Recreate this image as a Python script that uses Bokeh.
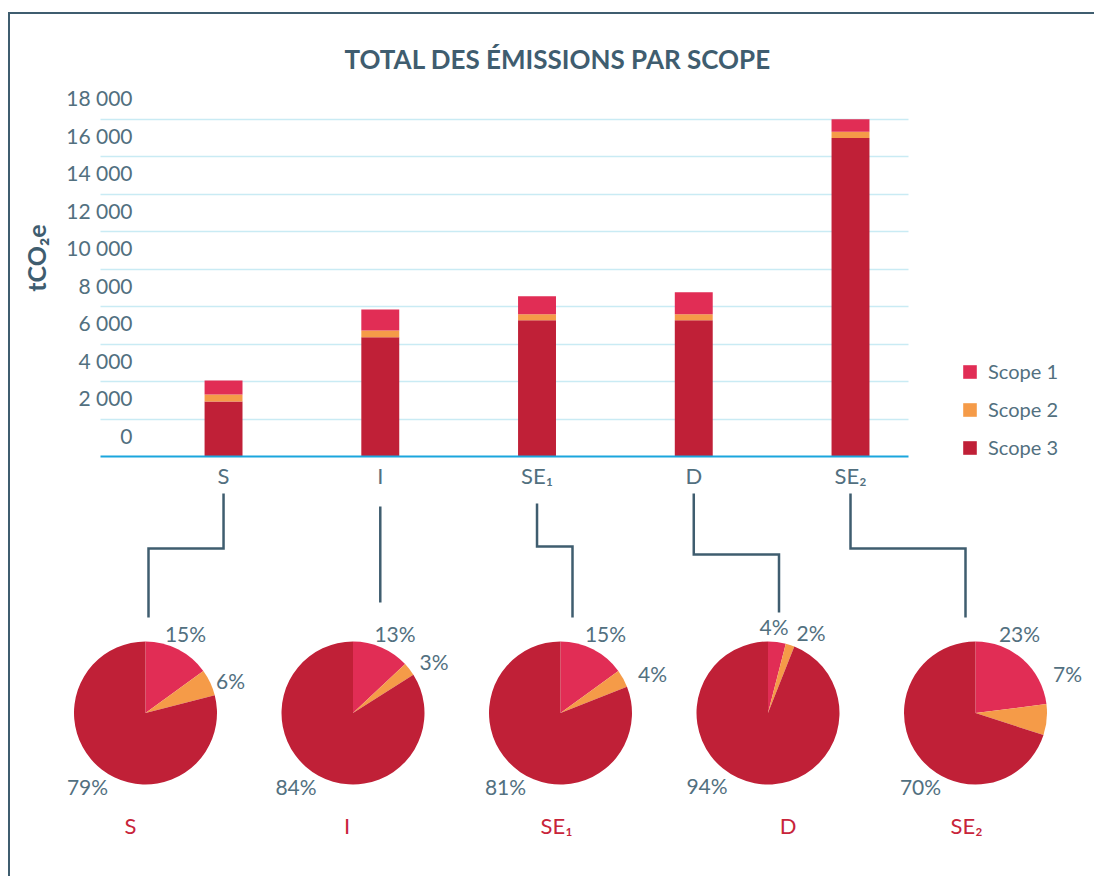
import math
from bokeh.plotting import figure
from bokeh.models import (ColumnDataSource, Range1d, FixedTicker, Legend, LegendItem,
                          LinearAxis, Grid)
from bokeh.core.properties import value
from bokeh.embed import file_html
from bokeh.resources import INLINE

# ---------------- data ----------------
SITES = ["S", "I", "SE₁", "D", "SE₂"]
SCOPE1 = [745, 1120, 960, 1180, 670]
SCOPE2 = [375, 370, 320, 320, 330]
SCOPE3 = [2950, 6370, 7280, 7280, 17000]
PCT1 = [15, 13, 15, 4, 23]
PCT2 = [6, 3, 4, 2, 7]
PCT3 = [79, 84, 81, 94, 70]
Y_TICKS = [0, 2000, 4000, 6000, 8000, 10000, 12000, 14000, 16000, 18000]
Y_TICK_LABELS = ["0", "2 000", "4 000", "6 000", "8 000", "10 000",
                 "12 000", "14 000", "16 000", "18 000"]
LEGEND_LABELS = ["Scope 1", "Scope 2", "Scope 3"]
TITLE = "TOTAL DES ÉMISSIONS PAR SCOPE"
Y_LABEL = "tCO₂e"

# ---------------- style ----------------
FONT = "Lato"
C1, C2, C3 = "#e12d55", "#f59b48", "#c02037"
SLATE = "#3f5d6f"
TEXT = "#52707f"
RED_LABEL = "#c8243a"
GRID = "#c9ebf4"
BASE = "#1ba6dd"

# ---------------- layout (page pixels) ----------------
W, H = 1094, 876
PAGE_X0, PAGE_Y0 = 0, 0
TOP_BORDER = 77                      # space for the title
BAR_LEFT, BAR_RIGHT = 100, 908       # bar plot area
BASE_Y, TOP_GRID_Y = 456.3, 118.7    # page y of 0 and of the last grid value
X_START, X_END = -0.785, 4.370       # bar-axis units across the bar plot area
LABEL_SHIFT = 1150                   # tick labels sit half a step above their grid line
BAR_W = 0.242

SX = (BAR_RIGHT - BAR_LEFT) / (X_END - X_START)
SY = (BASE_Y - TOP_GRID_Y) / Y_TICKS[-1]
FRAME_LEFT, FRAME_RIGHT = PAGE_X0, PAGE_X0 + W
FRAME_TOP, FRAME_BOTTOM = PAGE_Y0 + TOP_BORDER, PAGE_Y0 + H

def xd(px):
    return X_START + (px - BAR_LEFT) / SX

def yd(py):
    return (BASE_Y - py) / SY

PIE_X0, PIE_STEP, PIE_Y, PIE_R = 145, 207.5, 712.5, 71.5
PCT_OFFSETS = [
    [(40, -80), (85, -33), (-58, 73)],
    [(42, -80), (81, -52), (-57, 73)],
    [(45, -80), (92, -40), (-55, 73)],
    [(6, -87), (43, -81), (-61, 72)],
    [(44, -80), (92, -40), (-55, 73)],
]
NAME_DX = [-15, -6, -4, 20, -9]
NAME_Y = 825
CONN_TOP = [493, 506, 503, 493, 493]
CONN_MID = [548, None, 546, 554, 548]
CONN_BOT_DX = [3, None, 12, 11, -10]
CONN_BOT = [617, 602, 617, 612, 617]

# ---------------- figure ----------------
p = figure(width=W, height=H,
           x_range=Range1d(xd(FRAME_LEFT), xd(FRAME_RIGHT)),
           y_range=Range1d(yd(FRAME_BOTTOM), yd(FRAME_TOP)),
           x_axis_type=None, y_axis_type=None,
           output_backend="svg", toolbar_location=None,
           min_border_left=0, min_border_right=0, min_border_bottom=0,
           min_border_top=TOP_BORDER)
p.border_fill_color = None
p.background_fill_color = None
p.outline_line_color = None

# title
p.title.text = TITLE
p.title.align = "left"
p.title.offset = 344
p.title.standoff = 6
p.title.text_font = FONT
p.title.text_font_size = "26px"
p.title.text_font_style = "bold"
p.title.text_color = SLATE

# grid lines limited to the bar plot area
yg = Grid(dimension=1, ticker=FixedTicker(ticks=Y_TICKS[1:]),
          grid_line_color=GRID, grid_line_width=1.5)
try:
    yg.cross_bounds = (X_START, X_END)
    p.add_layout(yg)
except Exception:
    p.segment(x0=[X_START] * (len(Y_TICKS) - 1), x1=[X_END] * (len(Y_TICKS) - 1),
              y0=Y_TICKS[1:], y1=Y_TICKS[1:], line_color=GRID, line_width=1.5)

# bars
src = ColumnDataSource(dict(x=list(range(len(SITES))), s1=SCOPE1, s2=SCOPE2, s3=SCOPE3))
rs = p.vbar_stack(["s3", "s2", "s1"], x="x", width=BAR_W, color=[C3, C2, C1],
                  line_color=None, source=src)

# axes
xa = LinearAxis(fixed_location=0, bounds=(X_START, X_END),
                ticker=FixedTicker(ticks=list(range(len(SITES)))),
                major_label_overrides={i: s for i, s in enumerate(SITES)},
                axis_line_color=BASE, axis_line_width=2,
                major_tick_line_color=None, minor_tick_line_color=None,
                major_tick_out=0, major_tick_in=0,
                major_label_standoff=5,
                major_label_text_font=FONT, major_label_text_font_size="22px",
                major_label_text_color=TEXT)
p.add_layout(xa, "below")

ya = LinearAxis(fixed_location=X_START, bounds=(Y_TICKS[0] + LABEL_SHIFT - 200, 20500),
                ticker=FixedTicker(ticks=[v + LABEL_SHIFT for v in Y_TICKS]),
                major_label_overrides={v + LABEL_SHIFT: lab for v, lab in zip(Y_TICKS, Y_TICK_LABELS)},
                axis_line_color=None, major_tick_line_color=None, minor_tick_line_color=None,
                major_tick_out=0, major_tick_in=0,
                major_label_standoff=-32,
                major_label_text_font=FONT, major_label_text_font_size="21px",
                major_label_text_color=TEXT,
                axis_label=Y_LABEL, axis_label_standoff=12,
                axis_label_text_font=FONT, axis_label_text_font_size="25px",
                axis_label_text_font_style="bold", axis_label_text_color=SLATE)
p.add_layout(ya, "left")

# legend
legend = Legend(items=[LegendItem(label=LEGEND_LABELS[0], renderers=[rs[2]]),
                       LegendItem(label=LEGEND_LABELS[1], renderers=[rs[1]]),
                       LegendItem(label=LEGEND_LABELS[2], renderers=[rs[0]])],
                location=(961 - FRAME_LEFT, FRAME_BOTTOM - 459), orientation="vertical",
                glyph_width=17, glyph_height=17, label_height=24, label_standoff=10,
                spacing=14, padding=0, margin=0,
                label_text_font=FONT, label_text_font_size="20px", label_text_color=TEXT,
                border_line_color=None, background_fill_alpha=0)
p.add_layout(legend)

# pies
def bar_page_x(i):
    return BAR_LEFT + (i - X_START) * SX

wx, wy, ws, we, wc = [], [], [], [], []
tx, ty, tt = [], [], []
colors = [C1, C2, C3]
for i in range(len(SITES)):
    cx = PIE_X0 + i * PIE_STEP
    vals = [PCT1[i], PCT2[i], PCT3[i]]
    tot = float(sum(vals))
    cum = 0.0
    for k, v in enumerate(vals):
        f = v / tot
        wx.append(xd(cx)); wy.append(yd(PIE_Y))
        ws.append(math.pi / 2 - 2 * math.pi * cum)
        we.append(math.pi / 2 - 2 * math.pi * (cum + f))
        wc.append(colors[k])
        cum += f
        ox, oy = PCT_OFFSETS[i][k]
        tx.append(xd(cx + ox)); ty.append(yd(PIE_Y + oy)); tt.append(f"{v}%")

p.wedge(x=wx, y=wy, radius=PIE_R, radius_units="screen", start_angle=ws, end_angle=we,
        direction="clock", fill_color=wc, line_color=None)
p.text(x=tx, y=ty, text=tt, text_align="center", text_baseline="middle",
       text_font=value(FONT), text_font_size="21px", text_color=TEXT)

nx = [xd(PIE_X0 + i * PIE_STEP + NAME_DX[i]) for i in range(len(SITES))]
ny = [yd(NAME_Y)] * len(SITES)
p.text(x=nx, y=ny, text=SITES, text_align="center", text_baseline="middle",
       text_font=value(FONT), text_font_size="22px", text_color=RED_LABEL)

xs, ys = [], []
for i in range(len(SITES)):
    bx = bar_page_x(i)
    if CONN_MID[i] is None:
        xs.append([xd(bx), xd(bx)])
        ys.append([yd(CONN_TOP[i]), yd(CONN_BOT[i])])
    else:
        ex = PIE_X0 + i * PIE_STEP + CONN_BOT_DX[i]
        xs.append([xd(bx), xd(bx), xd(ex), xd(ex)])
        ys.append([yd(CONN_TOP[i]), yd(CONN_MID[i]), yd(CONN_MID[i]), yd(CONN_BOT[i])])
p.multi_line(xs=xs, ys=ys, line_color=SLATE, line_width=2.5, line_join="miter")

BORDER_CSS = ("linear-gradient(%s,%s) 8px 12px / 100%% 2px no-repeat, "
              "linear-gradient(%s,%s) 8px 12px / 2px 100%% no-repeat") % (SLATE, SLATE, SLATE, SLATE)
p.styles = {"background": BORDER_CSS}

open("out.html", "w").write(file_html(p, INLINE))
